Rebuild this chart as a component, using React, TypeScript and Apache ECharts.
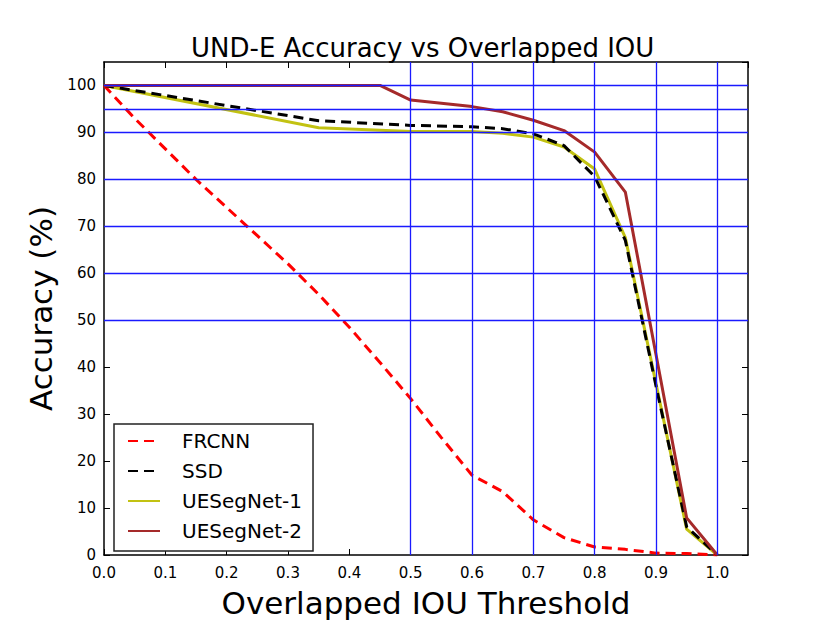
import React, { useEffect, useRef } from "react";
import * as echarts from "echarts";

const FONT = "DejaVu Sans";

const frcnnX = [0, 0.05, 0.1, 0.15, 0.2, 0.25, 0.3, 0.35, 0.4, 0.45, 0.5, 0.55, 0.6, 0.65, 0.7, 0.75, 0.8, 0.85, 0.9, 0.95, 1.0];
const frcnnY = [100, 93, 86.5, 80, 74, 68, 62, 55.5, 48.5, 41, 33.3, 25, 17, 13.5, 7.5, 3.7, 1.7, 1.2, 0.4, 0.3, 0];

const ssdX = [0, 0.35, 0.5, 0.6, 0.65, 0.7, 0.75, 0.8, 0.85, 0.9, 0.95, 1.0];
const ssdY = [100, 92.5, 91.5, 91.2, 90.8, 89.7, 87.2, 80.6, 67, 36, 6, 0];

const ues1X = [0, 0.35, 0.5, 0.6, 0.65, 0.7, 0.75, 0.8, 0.85, 0.9, 0.95, 1.0];
const ues1Y = [100, 91, 90.2, 90.2, 89.8, 89, 86.9, 82.2, 67.6, 36.5, 5.5, 0];

const ues2X = [0, 0.45, 0.5, 0.6, 0.65, 0.7, 0.75, 0.8, 0.85, 0.9, 0.95, 1.0];
const ues2Y = [100, 100, 96.9, 95.5, 94.4, 92.6, 90.4, 85.8, 77.3, 42.7, 7.9, 0];

const seriesNames = ["FRCNN", "SSD", "UESegNet-1", "UESegNet-2"];

const hGridValues = [50, 60, 70, 80, 90, 95, 100];
const vGridValues = [0.5, 0.6, 0.7, 0.8, 0.9, 1.0];

const zip = (xs: number[], ys: number[]) => xs.map((x, i) => [x, ys[i]]);

export default function App() {
  const ref = useRef<HTMLDivElement>(null);
  useEffect(() => {
    if (!ref.current) return;
    const chart = echarts.init(ref.current, null, { renderer: "svg" });
    const axisLine = { show: true, onZero: false, lineStyle: { color: "#000", width: 1.5 } };
    const tick = { show: true, inside: true, length: 6, lineStyle: { color: "#000", width: 1 } };
    const labelStyle = { fontFamily: FONT, fontSize: 15, color: "#000" };
    const lineSeries = (name: string, data: number[][], color: string, type: any, z: number) => ({
      name,
      type: "line",
      data,
      symbol: "none",
      showSymbol: false,
      z,
      lineStyle: { color, width: 3, type },
      itemStyle: { color },
    });
    chart.setOption({
      animation: false,
      backgroundColor: "#fff",
      title: {
        text: "UND-E Accuracy vs Overlapped IOU",
        left: 186,
        top: 30,
        textStyle: { fontFamily: FONT, fontSize: 26, fontWeight: "normal", color: "#000" },
      },
      grid: { left: 104, right: 82, top: 62, bottom: 62, containLabel: false },
      legend: {
        orient: "vertical",
        left: 114,
        top: 424,
        data: seriesNames,
        itemWidth: 32,
        itemHeight: 20,
        itemGap: 10,
        padding: [7, 11, 10, 13],
        borderColor: "#222",
        borderWidth: 1.5,
        backgroundColor: "#fff",
        itemStyle: { color: "rgba(0,0,0,0)", borderWidth: 0, opacity: 0 },
        textStyle: { fontFamily: FONT, fontSize: 20, color: "#000", padding: [0, 0, 0, 17] },
      },
      xAxis: [
        {
          type: "value",
          min: 0,
          max: 1.05,
          interval: 0.1,
          position: "bottom",
          name: "Overlapped IOU Threshold",
          nameLocation: "middle",
          nameGap: 32,
          nameTextStyle: { fontFamily: FONT, fontSize: 31, color: "#000" },
          axisLine,
          axisTick: tick,
          splitLine: { show: false },
          axisLabel: {
            ...labelStyle,
            margin: 10,
            showMaxLabel: false,
            formatter: (v: number) => v.toFixed(1),
          },
        },
        {
          type: "value",
          min: 0,
          max: 1.05,
          interval: 0.1,
          position: "top",
          axisLine,
          axisTick: tick,
          splitLine: { show: false },
          axisLabel: { show: false },
        },
      ],
      yAxis: [
        {
          type: "value",
          min: 0,
          max: 105,
          interval: 10,
          position: "left",
          name: "Accuracy (%)",
          nameLocation: "middle",
          nameGap: 48,
          nameTextStyle: { fontFamily: FONT, fontSize: 31, color: "#000" },
          axisLine,
          axisTick: tick,
          splitLine: { show: false },
          axisLabel: { ...labelStyle, margin: 8, showMaxLabel: false },
        },
        {
          type: "value",
          min: 0,
          max: 105,
          interval: 10,
          position: "right",
          axisLine,
          axisTick: tick,
          splitLine: { show: false },
          axisLabel: { show: false },
        },
      ],
      series: [
        {
          name: "grid",
          type: "line",
          data: [],
          z: 1,
          silent: true,
          markLine: {
            silent: true,
            symbol: ["none", "none"],
            label: { show: false },
            lineStyle: { color: "#1a1aff", width: 1.3, type: "solid" },
            data: [
              ...hGridValues.map((v) => ({ yAxis: v })),
              ...vGridValues.map((v) => ({ xAxis: v })),
            ],
          },
        },
        lineSeries("FRCNN", zip(frcnnX, frcnnY), "#ff0000", [10, 6], 3),
        lineSeries("SSD", zip(ssdX, ssdY), "#000000", [10, 6], 3),
        lineSeries("UESegNet-1", zip(ues1X, ues1Y), "#c2c212", "solid", 2),
        lineSeries("UESegNet-2", zip(ues2X, ues2Y), "#a52a2a", "solid", 4),
      ],
    });
    return () => chart.dispose();
  }, []);
  return (
    <div
      ref={ref}
      style={{ position: "fixed", left: 0, top: 0, width: 830, height: 623, background: "#fff" }}
    />
  );
}
